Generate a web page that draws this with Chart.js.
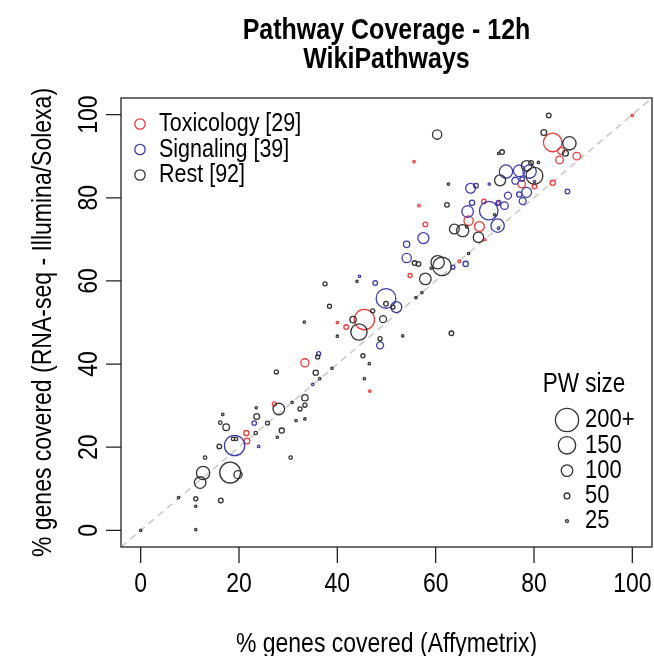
<!DOCTYPE html>
<html>
<head>
<meta charset="utf-8">
<script src="https://cdn.jsdelivr.net/npm/chart.js@4.4.1/dist/chart.umd.min.js"></script>
<style>
  html, body { margin: 0; padding: 0; background: #fff; }
  canvas { display: block; }
</style>
</head>
<body>
<canvas id="pwChart" width="654" height="656"></canvas>
<script>
// --- Data ---
const titleLines = ['Pathway Coverage - 12h', 'WikiPathways'];
const xLabel = '% genes covered (Affymetrix)';
const yLabel = '% genes covered (RNA-seq - Illumina/Solexa)';
const xTicks = [0, 20, 40, 60, 80, 100];
const yTicks = [0, 20, 40, 60, 80, 100];

const groupNames = ['Toxicology', 'Signaling', 'Rest'];
const groupCounts = [29, 39, 92];
const groupColors = ['#f03a3a', '#3c3cac', '#333333'];

const sizeLegendValues = [200, 150, 100, 50, 25];
const sizeLegendLabels = ['200+', '150', '100', '50', '25'];

// Toxicology
const toxX = [100, 83.8, 85.5, 85.2, 88.7, 77.5, 83.8, 80.1, 69.8, 72.6, 66.7, 68.9, 70, 57.9, 56.6, 55.6, 54.8, 45.5, 41.8, 40, 46.6, 33.4, 27.2, 21.5, 21.6, 64.8];
const toxY = [99.8, 93.3, 91.3, 89.1, 90.0, 83.3, 83.6, 82.7, 79.1, 78.6, 74.5, 73.1, 69.9, 73.6, 78.1, 88.7, 61.3, 50.7, 48.9, 50, 33.5, 40.3, 30.4, 23.4, 21.5, 64.7];
const toxSize = [20, 160, 60, 65, 65, 65, 45, 40, 40, 35, 80, 85, 20, 40, 22, 18, 35, 175, 40, 20, 20, 70, 35, 45, 50, 25];

// Signaling
const sigX = [86.8, 79.1, 77, 74.3, 76.2, 77.6, 80.1, 78.5, 77, 77.7, 74.7, 74, 67.1, 68.2, 70.9, 67.4, 70.8, 66.5, 72.6, 72.8, 57.5, 54.1, 54.1, 63.5, 66.1, 49.9, 52, 48.7, 47.7, 44.5, 36.2, 35, 19.1, 23.1, 24, 72.8];
const sigY = [81.5, 86.3, 86.5, 86.3, 84.1, 84.5, 83.9, 81.3, 80.8, 79.2, 80.5, 78.1, 82.3, 82.9, 83.3, 78.8, 76.9, 76.7, 73.3, 72.7, 70.3, 68.8, 65.5, 63.3, 64.1, 55.8, 53.7, 44.5, 59.5, 61.1, 42.5, 35.1, 20.4, 25.8, 20.2, 78.8];
const sigSize = [40, 115, 100, 115, 60, 40, 20, 85, 45, 60, 60, 65, 85, 40, 20, 45, 160, 100, 115, 15, 95, 55, 80, 35, 45, 170, 95, 60, 40, 15, 35, 18, 175, 40, 22, 40];

// Rest
const restX = [83, 60.3, 82, 87.2, 86.4, 73.5, 72.8, 62.6, 62.3, 73.1, 78.5, 80.1, 79.4, 80.9, 72, 63.8, 65.5, 68.7, 66.7, 60.4,
  61.3, 59.1, 57.9, 55.7, 56.5, 56, 57.2, 63.2, 53.3, 49.3, 48.7, 49.9, 51.3, 47.2, 44.4, 43.2, 45.2, 46.5, 45.5, 44,
  37.5, 38.4, 33.3, 40, 38.9, 36.4, 36, 35.6, 27.6, 33.4, 33.4, 32.4, 30.8, 31.6, 33.4, 30.5, 28.7, 27.8, 28.1, 23.6,
  23.5, 23.4, 25.8, 16.7, 16.2, 17.4, 18.8, 19.4, 16, 13.1, 12.7, 12.1, 18.2, 19.8, 16.3, 11.2, 11.2, 7.7, 11.2, 0, 66.3];
const restY = [99.8, 95.2, 95.7, 93.1, 90.7, 91.0, 90.7, 83.3, 78.3, 84.2, 87.7, 85.3, 88.4, 88.5, 75.9, 72.5, 72.1, 70.5, 66.6, 64.5,
  63.5, 63.1, 60.5, 64.3, 64.1, 56, 57.2, 47.4, 46.8, 50.8, 46.1, 54.5, 53.7, 52.8, 47.7, 50.7, 42.0, 40.1, 36.5, 59.9,
  59.3, 53.9, 50.1, 46.7, 39.0, 36.5, 41.7, 37.9, 38.1, 31.9, 30.1, 29.2, 30.8, 26.4, 26.8, 17.5, 24.0, 22.4, 29.2, 27.4,
  29.5, 23.4, 25.8, 27.9, 25.9, 24.8, 22.0, 22.0, 20.2, 17.5, 13.8, 11.5, 13.9, 13.4, 7.2, 7.6, 5.8, 7.9, 0.2, 0, 73];
const restSize = [40, 80, 50, 115, 50, 40, 18, 20, 40, 95, 90, 145, 40, 18, 20, 85, 105, 90, 20, 115,
  160, 18, 100, 40, 40, 20, 18, 40, 18, 60, 35, 40, 35, 35, 140, 55, 35, 18, 18, 20,
  35, 35, 18, 18, 18, 18, 35, 45, 35, 55, 35, 35, 18, 18, 18, 30, 45, 18, 100, 50,
  18, 30, 35, 18, 30, 57, 30, 30, 40, 30, 115, 100, 180, 70, 40, 35, 18, 18, 15, 20, 15];

// --- Helpers ---
const FONT = '"Liberation Sans", Arial, Helvetica, sans-serif';
const TEXT_STRETCH = 1.2; // glyphs in the source are taller than Liberation Sans
const radiusFor = size => Math.max(1.2, Math.min(size, 200) * 0.058);

function makeDataset(label, xs, ys, sizes, color) {
  return {
    label: label,
    data: xs.map((x, i) => ({ x: x, y: ys[i] })),
    borderColor: color,
    backgroundColor: 'rgba(0,0,0,0)',
    borderWidth: 1.3,
    pointRadius: ctx => radiusFor(sizes[ctx.dataIndex]),
    pointHoverRadius: ctx => radiusFor(sizes[ctx.dataIndex]),
  };
}

function drawText(ctx, txt, x, y, font, align, rot) {
  ctx.save();
  ctx.translate(x, y);
  if (rot) ctx.rotate(rot);
  ctx.scale(1, TEXT_STRETCH);
  ctx.font = font;
  ctx.textAlign = align || 'center';
  ctx.textBaseline = 'middle';
  ctx.fillStyle = '#000';
  ctx.fillText(txt, 0, 0);
  ctx.restore();
}

// R-style axes, box, titles and legends
const rDecor = {
  id: 'rDecor',
  beforeDatasetsDraw(chart) {
    const { ctx, chartArea: a, scales: { x, y } } = chart;
    ctx.save();
    ctx.beginPath();
    ctx.rect(a.left, a.top, a.right - a.left, a.bottom - a.top);
    ctx.clip();
    ctx.strokeStyle = '#c4c4c4';
    ctx.lineWidth = 1.4;
    ctx.setLineDash([7, 5]);
    ctx.beginPath();
    ctx.moveTo(x.getPixelForValue(-4), y.getPixelForValue(-4));
    ctx.lineTo(x.getPixelForValue(104), y.getPixelForValue(104));
    ctx.stroke();
    ctx.restore();
  },
  afterDraw(chart) {
    const { ctx, chartArea: a, scales: { x, y } } = chart;
    ctx.save();
    ctx.strokeStyle = '#222';
    ctx.lineWidth = 1.3;
    ctx.strokeRect(a.left, a.top, a.right - a.left, a.bottom - a.top);
    // ticks
    ctx.beginPath();
    xTicks.forEach(v => {
      const px = x.getPixelForValue(v);
      ctx.moveTo(px, a.bottom); ctx.lineTo(px, a.bottom + 16);
    });
    yTicks.forEach(v => {
      const py = y.getPixelForValue(v);
      ctx.moveTo(a.left, py); ctx.lineTo(a.left - 15, py);
    });
    ctx.stroke();
    ctx.restore();

    const tickFont = '23px ' + FONT;
    xTicks.forEach(v => drawText(ctx, String(v), x.getPixelForValue(v), a.bottom + 37, tickFont));
    yTicks.forEach(v => drawText(ctx, String(v), a.left - 32, y.getPixelForValue(v), tickFont, 'center', -Math.PI / 2));

    // titles and axis labels
    const midX = (a.left + a.right) / 2;
    drawText(ctx, titleLines[0], midX, 31, 'bold 25px ' + FONT);
    drawText(ctx, titleLines[1], midX, 60, 'bold 25px ' + FONT);
    drawText(ctx, xLabel, midX, 644, '23px ' + FONT);
    drawText(ctx, yLabel, 43, (a.top + a.bottom) / 2, '23px ' + FONT, 'center', -Math.PI / 2);

    // group legend (top left)
    ctx.save();
    groupNames.forEach((name, i) => {
      const ly = 124 + i * 25.5;
      ctx.strokeStyle = groupColors[i];
      ctx.lineWidth = 1.3;
      ctx.beginPath();
      ctx.arc(140, ly, 5.2, 0, Math.PI * 2);
      ctx.stroke();
      drawText(ctx, name + ' [' + groupCounts[i] + ']', 159, ly, '21.5px ' + FONT, 'left');
    });
    ctx.restore();

    // size legend (bottom right)
    drawText(ctx, 'PW size', 584, 385, '22.5px ' + FONT);
    ctx.save();
    sizeLegendValues.forEach((s, i) => {
      const ly = 420 + i * 25.3;
      ctx.strokeStyle = '#333';
      ctx.lineWidth = 1.3;
      ctx.beginPath();
      ctx.arc(567, ly, radiusFor(s), 0, Math.PI * 2);
      ctx.stroke();
      drawText(ctx, sizeLegendLabels[i], 585, ly, '22px ' + FONT, 'left');
    });
    ctx.restore();
  }
};

const ctx = document.getElementById('pwChart').getContext('2d');
const pwChart = new Chart(ctx, {
  type: 'scatter',
  data: {
    datasets: [
      makeDataset('Rest', restX, restY, restSize, groupColors[2]),
      makeDataset('Signaling', sigX, sigY, sigSize, groupColors[1]),
      makeDataset('Toxicology', toxX, toxY, toxSize, groupColors[0]),
    ]
  },
  options: {
    responsive: false,
    animation: false,
    layout: { autoPadding: false, padding: { left: 121, right: 2, top: 98, bottom: 109 } },
    plugins: { legend: { display: false }, tooltip: { enabled: false }, title: { display: false } },
    scales: {
      x: { type: 'linear', min: -4, max: 104, display: false },
      y: { type: 'linear', min: -4, max: 104, display: false }
    }
  },
  plugins: [rDecor]
});
</script>
</body>
</html>
